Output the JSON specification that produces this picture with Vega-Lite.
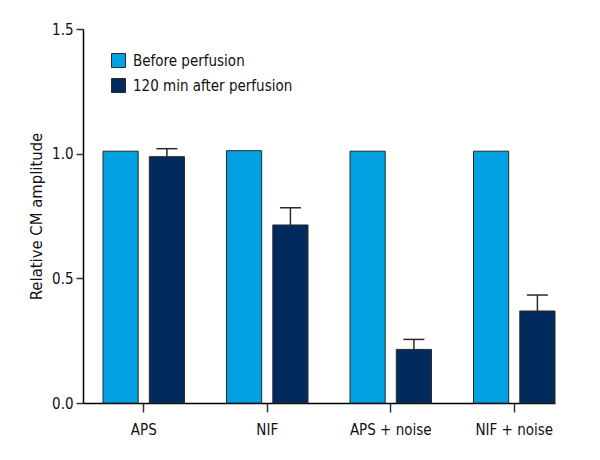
{
  "$schema": "https://vega.github.io/schema/vega-lite/v6.json",
  "width": 472,
  "height": 374,
  "autosize": {"type": "none"},
  "padding": {"left": 83, "top": 29, "right": 45, "bottom": 57},
  "config": {
    "view": {"stroke": null},
    "font": "DejaVu Sans Condensed, Roboto, sans-serif",
    "axis": {"domainColor": "#000000", "tickColor": "#333333", "labelColor": "#111111", "titleColor": "#111111", "grid": false, "labelFont": "DejaVu Sans Condensed, Roboto, sans-serif", "titleFont": "DejaVu Sans Condensed, Roboto, sans-serif"},
    "legend": {"labelFont": "DejaVu Sans Condensed, Roboto, sans-serif"}
  },
  "data": {
    "values": [
      {"group": "APS", "condition": "Before perfusion", "value": 1.01},
      {"group": "APS", "condition": "120 min after perfusion", "value": 0.988, "upper": 1.02},
      {"group": "NIF", "condition": "Before perfusion", "value": 1.012},
      {"group": "NIF", "condition": "120 min after perfusion", "value": 0.714, "upper": 0.783},
      {"group": "APS + noise", "condition": "Before perfusion", "value": 1.01},
      {"group": "APS + noise", "condition": "120 min after perfusion", "value": 0.215, "upper": 0.255},
      {"group": "NIF + noise", "condition": "Before perfusion", "value": 1.01},
      {"group": "NIF + noise", "condition": "120 min after perfusion", "value": 0.369, "upper": 0.433}
    ]
  },
  "encoding": {
    "x": {
      "field": "group", "type": "nominal", "sort": ["APS", "NIF", "APS + noise", "NIF + noise"],
      "scale": {"paddingInner": 0.34, "paddingOuter": 0.081, "align": 1},
      "axis": {"title": null, "labelAngle": 0, "labelFontSize": 15, "tickSize": 9, "labelPadding": 10, "domainWidth": 1.5, "tickWidth": 1.5}
    },
    "xOffset": {
      "field": "condition", "type": "nominal",
      "scale": {"domain": ["Before perfusion", "120 min after perfusion"], "paddingInner": 0.24, "paddingOuter": 0}
    }
  },
  "layer": [
    {
      "mark": {"type": "bar", "stroke": "#2a2a2a", "strokeWidth": 1},
      "encoding": {
        "y": {
          "field": "value", "type": "quantitative",
          "scale": {"domain": [0, 1.5], "nice": false},
          "axis": {"values": [0, 0.5, 1, 1.5], "format": ".1f", "title": "Relative CM amplitude", "titleFontSize": 16.5, "titleFontWeight": "normal", "labelFontSize": 15, "tickSize": 7, "labelPadding": 3, "titlePadding": 7, "domainWidth": 1.5, "tickWidth": 1.5}
        },
        "color": {
          "field": "condition", "type": "nominal",
          "scale": {"domain": ["Before perfusion", "120 min after perfusion"], "range": ["#00a0e1", "#002b5c"]},
          "legend": {
            "title": null, "orient": "none", "legendX": 28, "legendY": 24,
            "symbolType": "square", "symbolSize": 196, "symbolStrokeColor": "#2a2a2a", "symbolStrokeWidth": 1, "symbolOpacity": 1,
            "labelFontSize": 15, "labelOffset": 7, "rowPadding": 6, "labelColor": "#111111", "padding": 0
          }
        }
      }
    },
    {
      "transform": [{"filter": "isValid(datum.upper)"}],
      "mark": {"type": "rule", "color": "#2a2a2a", "strokeWidth": 1.5},
      "encoding": {
        "y": {"field": "value", "type": "quantitative"},
        "y2": {"field": "upper"}
      }
    },
    {
      "transform": [{"filter": "isValid(datum.upper)"}],
      "mark": {"type": "tick", "color": "#2a2a2a", "thickness": 1.5, "size": 21, "opacity": 1},
      "encoding": {
        "y": {"field": "upper", "type": "quantitative"}
      }
    }
  ]
}
